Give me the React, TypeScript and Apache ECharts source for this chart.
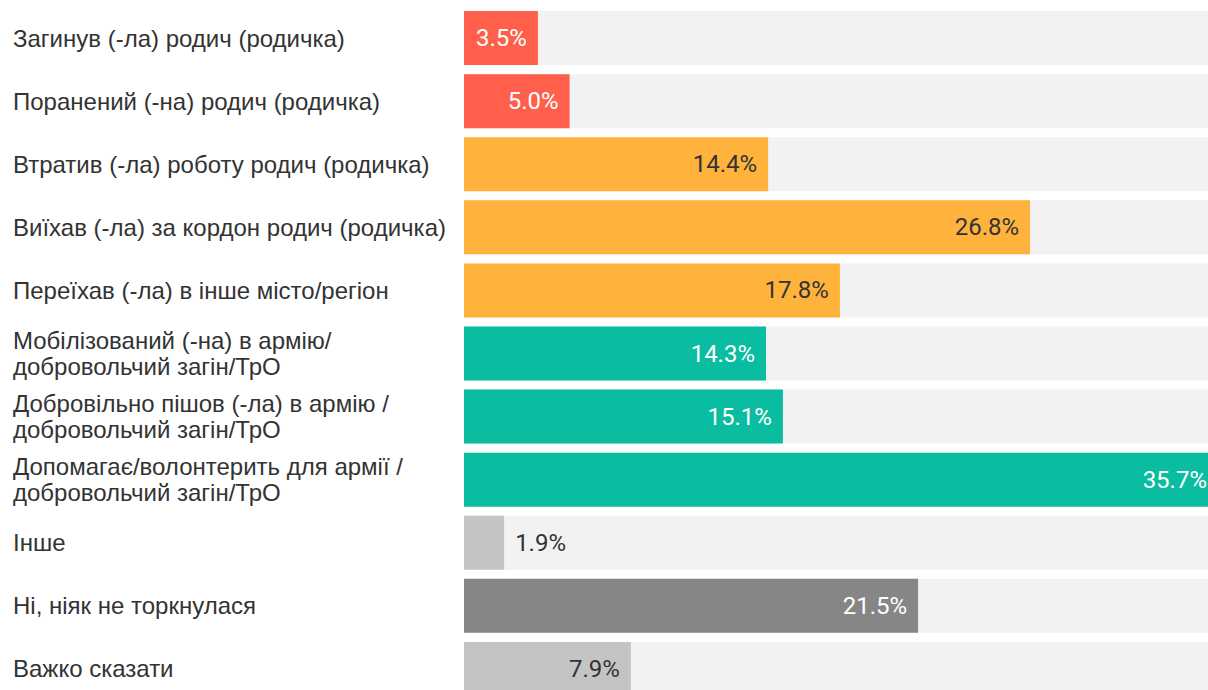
import React, { useEffect, useRef } from "react";
import * as echarts from "echarts";

const categories = [
  "Загинув (-ла) родич (родичка)",
  "Поранений (-на) родич (родичка)",
  "Втратив (-ла) роботу родич (родичка)",
  "Виїхав (-ла) за кордон родич (родичка)",
  "Переїхав (-ла) в інше місто/регіон",
  "Мобілізований (-на) в армію/\nдобровольчий загін/ТрО",
  "Добровільно пішов (-ла) в армію /\nдобровольчий загін/ТрО",
  "Допомагає/волонтерить для армії /\nдобровольчий загін/ТрО",
  "Інше",
  "Ні, ніяк не торкнулася",
  "Важко сказати",
];

const values = [3.5, 5.0, 14.4, 26.8, 17.8, 14.3, 15.1, 35.7, 1.9, 21.5, 7.9];

const barColors = [
  "#ff5f4b",
  "#ff5f4b",
  "#ffb33d",
  "#ffb33d",
  "#ffb33d",
  "#0abda0",
  "#0abda0",
  "#0abda0",
  "#c4c4c4",
  "#868686",
  "#c4c4c4",
];

const labelColors = [
  "#ffffff",
  "#ffffff",
  "#333333",
  "#333333",
  "#333333",
  "#ffffff",
  "#ffffff",
  "#ffffff",
  "#333333",
  "#ffffff",
  "#333333",
];

const outsideLabel = [false, false, false, false, false, false, false, false, true, false, false];

export default function App() {
  const ref = useRef<HTMLDivElement>(null);

  useEffect(() => {
    document.body.style.margin = "0";
    if (!ref.current) return;
    const chart = echarts.init(ref.current, null, { renderer: "svg" });
    chart.setOption({
      animation: false,
      backgroundColor: "#ffffff",
      grid: { left: 464, right: 12, top: 6.5, height: 694, containLabel: false },
      xAxis: {
        type: "value",
        min: 0,
        max: 35.7,
        show: false,
      },
      yAxis: {
        type: "category",
        data: categories,
        inverse: true,
        axisLine: { show: false },
        axisTick: { show: false },
        splitLine: { show: false },
        axisLabel: {
          align: "left",
          margin: 451,
          fontFamily: "Liberation Sans",
          fontSize: 24,
          color: "#333333",
          lineHeight: 26,
        },
      },
      series: [
        {
          type: "bar",
          barWidth: 54,
          showBackground: true,
          backgroundStyle: { color: "#f2f2f2" },
          data: values.map((v, i) => ({
            value: v,
            itemStyle: { color: barColors[i] },
            label: {
              show: true,
              position: outsideLabel[i] ? "right" : "insideRight",
              distance: 11,
              color: labelColors[i],
              fontFamily: "Roboto",
              fontSize: 24,
              formatter: (p: any) => p.value.toFixed(1) + "%",
            },
          })),
        },
      ],
    });
    return () => chart.dispose();
  }, []);

  return (
    <div style={{ width: 1208, height: 690, overflow: "hidden", position: "relative" }}>
      <div ref={ref} style={{ width: 1230, height: 720 }} />
    </div>
  );
}
